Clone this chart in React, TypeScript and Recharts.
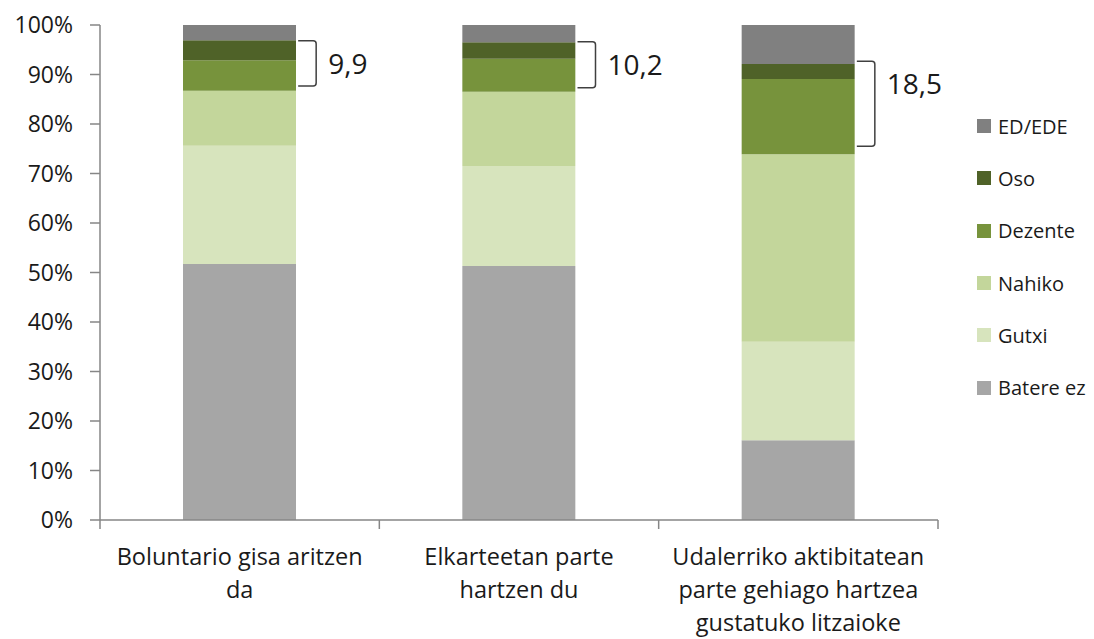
import { BarChart, Bar, XAxis, YAxis, Legend, ReferenceArea } from 'recharts';

const categories = [
  'Boluntario gisa aritzen da',
  'Elkarteetan parte hartzen du',
  'Udalerriko aktibitatean parte gehiago hartzea gustatuko litzaioke',
];
const categoryLines = [
  ['Boluntario gisa aritzen', 'da'],
  ['Elkarteetan parte', 'hartzen du'],
  ['Udalerriko aktibitatean', 'parte gehiago hartzea', 'gustatuko litzaioke'],
];

const batereEz = [51.7, 51.3, 16.1];
const gutxi = [23.9, 20.2, 19.9];
const nahiko = [11.1, 15.0, 37.9];
const dezente = [6.2, 6.7, 15.2];
const oso = [4.0, 3.3, 3.0];
const edEde = [3.1, 3.5, 7.9];

const yTicks = [0, 10, 20, 30, 40, 50, 60, 70, 80, 90, 100];

// brackets: Oso + Dezente share
const bracketTop = [96.8, 96.6, 92.7];
const bracketBottom = [87.7, 87.3, 75.5];
const bracketLabels = ['9,9', '10,2', '18,5'];

const series = [
  { key: 'batereEz', name: 'Batere ez', color: '#A6A6A6', values: batereEz },
  { key: 'gutxi', name: 'Gutxi', color: '#D7E4BD', values: gutxi },
  { key: 'nahiko', name: 'Nahiko', color: '#C3D69B', values: nahiko },
  { key: 'dezente', name: 'Dezente', color: '#77933C', values: dezente },
  { key: 'oso', name: 'Oso', color: '#4F6228', values: oso },
  { key: 'edEde', name: 'ED/EDE', color: '#808080', values: edEde },
];

const data = categories.map((name, i) => {
  const row: Record<string, string | number> = { name };
  series.forEach((s) => {
    row[s.key] = s.values[i];
  });
  return row;
});

const WIDTH = 1094;
const HEIGHT = 639;
const MARGIN = { top: 25, right: 156, bottom: 0, left: 0 };
const X_AXIS_H = 119;
const Y_AXIS_W = 100;
const PLOT_W = WIDTH - MARGIN.left - MARGIN.right - Y_AXIS_W;
const BAR_SIZE = 113;
const AXIS_COLOR = '#868686';
const TEXT_COLOR = '#1a1a1a';
const FONT = '"Open Sans", sans-serif';

function CategoryTick(props: any) {
  const { x, y, index } = props;
  const band = PLOT_W / categories.length;
  const lines = categoryLines[index] || [];
  return (
    <g>
      {index === 0 && (
        <line x1={x - band / 2} x2={x - band / 2} y1={y} y2={y + 9} stroke={AXIS_COLOR} strokeWidth={1.5} />
      )}
      <line x1={x + band / 2} x2={x + band / 2} y1={y} y2={y + 9} stroke={AXIS_COLOR} strokeWidth={1.5} />
      {lines.map((line: string, i: number) => (
        <text key={i} x={x} y={y + 45 + i * 33} textAnchor="middle" fill={TEXT_COLOR} fontSize={23.5} fontFamily={FONT}>
          {line}
        </text>
      ))}
    </g>
  );
}

function Bracket(props: any) {
  const { x, y, width, height, label } = props;
  if (x == null || y == null) return null;
  const barRight = x + width / 2 + BAR_SIZE / 2;
  const x0 = barRight + 2;
  const x1 = barRight + 20;
  const r = 3;
  const d = `M${x0},${y} L${x1 - r},${y} Q${x1},${y} ${x1},${y + r} L${x1},${y + height - r} Q${x1},${y + height} ${x1 - r},${y + height} L${x0},${y + height}`;
  return (
    <g>
      <path d={d} fill="none" stroke="#404040" strokeWidth={1.5} />
      <text x={x1 + 12} y={y + 33} fill={TEXT_COLOR} fontSize={28} fontFamily={FONT}>
        {label}
      </text>
    </g>
  );
}

function LegendBox() {
  const items = [...series].reverse();
  return (
    <div style={{ fontFamily: FONT, fontSize: 20, color: TEXT_COLOR }}>
      {items.map((s) => (
        <div key={s.key} style={{ height: 52.3, display: 'flex', alignItems: 'center' }}>
          <span style={{ width: 14, height: 14, background: s.color, display: 'inline-block', marginRight: 7 }} />
          <span>{s.name}</span>
        </div>
      ))}
    </div>
  );
}

export default function App() {
  return (
    <div style={{ position: 'absolute', left: 0, top: 0, background: '#fff' }}>
      <BarChart width={WIDTH} height={HEIGHT} data={data} margin={MARGIN} style={{ fontFamily: FONT }}>
        <XAxis
          dataKey="name"
          stroke={AXIS_COLOR}
          strokeWidth={1.5}
          tickLine={false}
          tickSize={0}
          tickMargin={0}
          interval={0}
          height={X_AXIS_H}
          tick={<CategoryTick />}
        />
        <YAxis
          width={Y_AXIS_W}
          domain={[0, 100]}
          ticks={yTicks}
          tickFormatter={(v: number) => `${v}%`}
          stroke={AXIS_COLOR}
          strokeWidth={1.5}
          tickSize={10}
          tickMargin={17}
          tick={{ fill: TEXT_COLOR, fontSize: 23, fontFamily: FONT }}
          interval={0}
        />
        {series.map((s) => (
          <Bar key={s.key} dataKey={s.key} name={s.name} stackId="a" fill={s.color} barSize={BAR_SIZE} isAnimationActive={false} />
        ))}
        {categories.map((c, i) => (
          <ReferenceArea
            key={c}
            x1={c}
            x2={c}
            y1={bracketBottom[i]}
            y2={bracketTop[i]}
            fill="none"
            stroke="none"
            shape={(p: any) => <Bracket {...p} label={bracketLabels[i]} />}
          />
        ))}
        <Legend
          layout="vertical"
          align="center"
          verticalAlign="middle"
          wrapperStyle={{ top: 100, left: 977, width: 117 }}
          content={() => <LegendBox />}
        />
      </BarChart>
    </div>
  );
}
